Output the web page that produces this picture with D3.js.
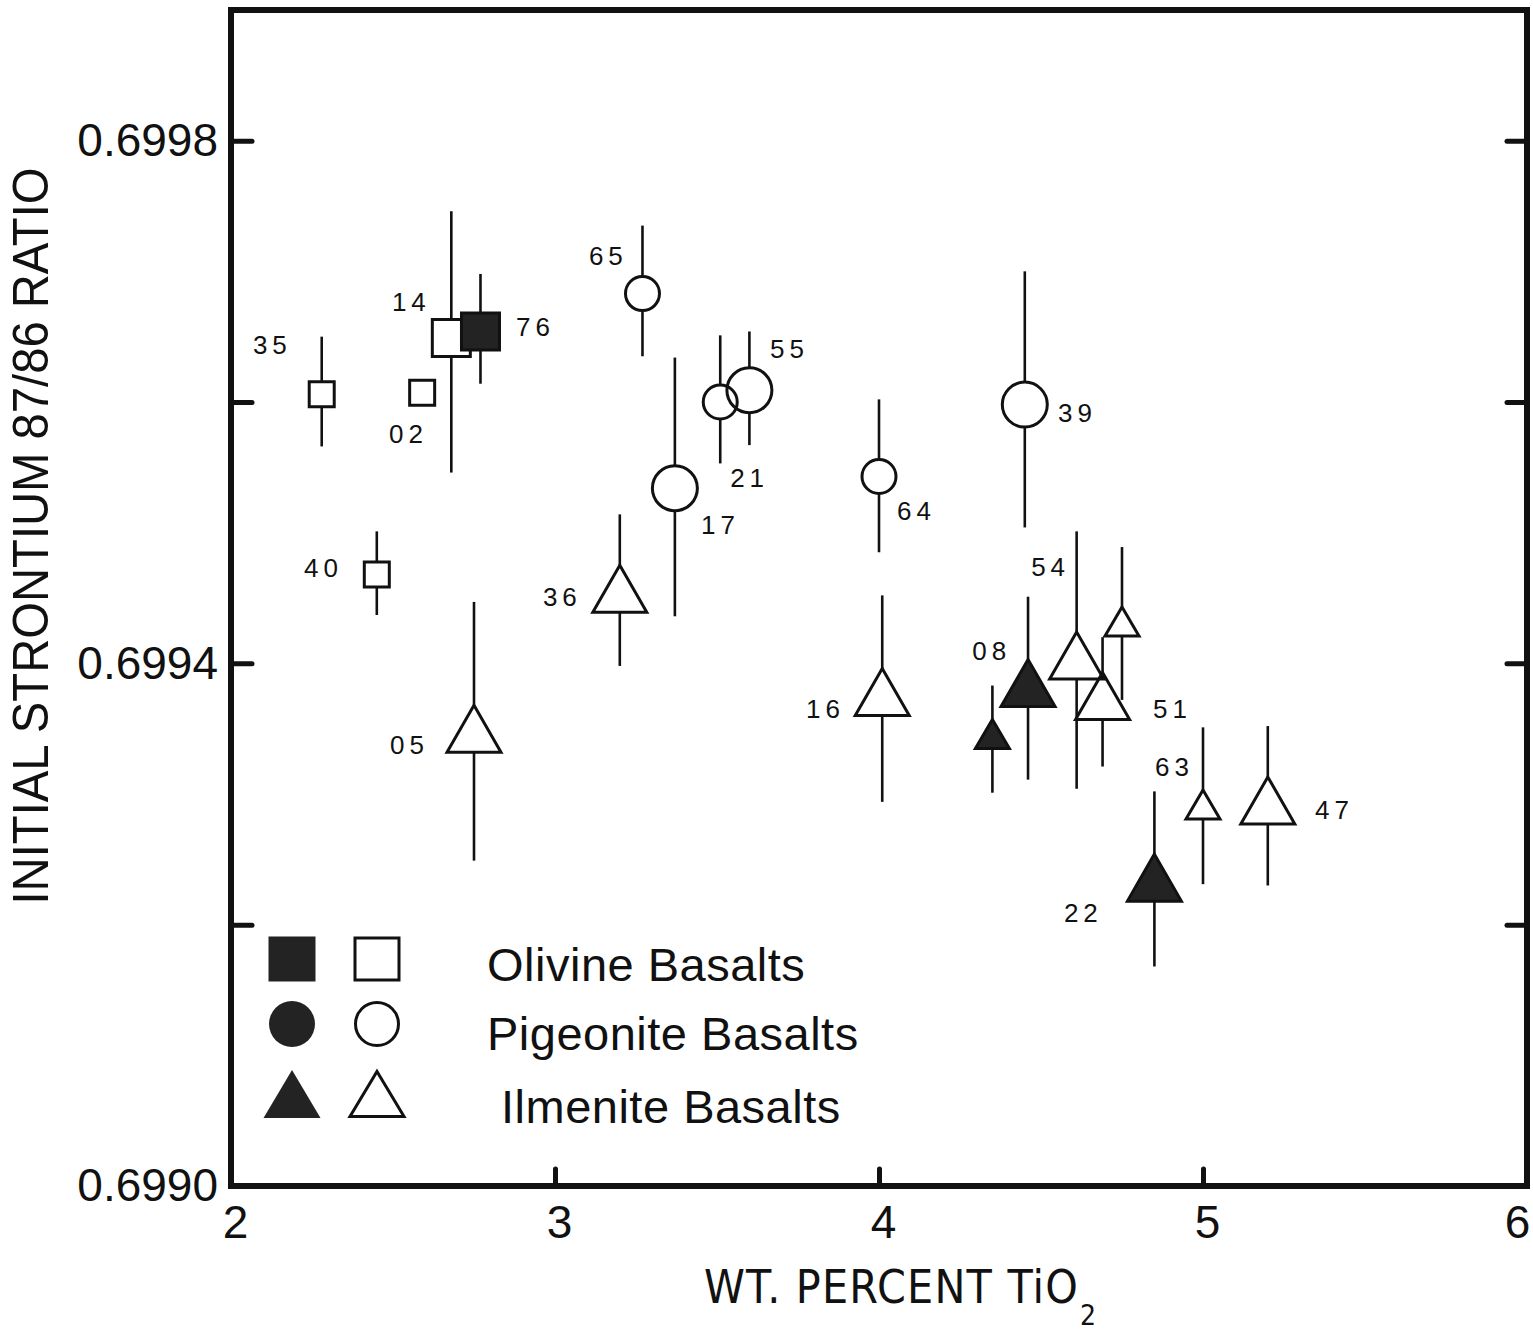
<!DOCTYPE html>
<html>
<head>
<meta charset="utf-8">
<script src="https://cdn.jsdelivr.net/npm/d3@7"></script>
<style>
  body { margin: 0; background: #fff; }
  svg { display: block; }
  text { font-family: "Liberation Sans", Arial, Helvetica, sans-serif; fill: #111; }
</style>
</head>
<body>
<div id="chart"></div>
<script>

//////// DATA ////////
// one entry per sample, plotting order (later ones drawn on top)
var sampleLabels = ["35", "02", "14", "76", "40",
                    "65", "21", "55", "17", "64", "39",
                    "36", "05", "16", "08", "", "54", "51", "", "63", "47", "22"];

var basaltType = ["olivine", "olivine", "olivine", "olivine", "olivine",
                  "pigeonite", "pigeonite", "pigeonite", "pigeonite", "pigeonite", "pigeonite",
                  "ilmenite", "ilmenite", "ilmenite", "ilmenite", "ilmenite", "ilmenite",
                  "ilmenite", "ilmenite", "ilmenite", "ilmenite", "ilmenite"];

var isFilled = [false, false, false, true, false,
                false, false, false, false, false, false,
                false, false, false, true, true, false, false, false, false, false, true];

// symbol size class
var sizeClass = ["small", "small", "large", "large", "small",
                 "small", "small", "large", "large", "small", "large",
                 "large", "large", "large", "large", "small", "large", "large", "small", "small", "large", "large"];

var tio2 = [2.28, 2.59, 2.68, 2.77, 2.45,
            3.27, 3.51, 3.60, 3.37, 4.00, 4.45,
            3.20, 2.75, 4.01, 4.46, 4.35, 4.61, 4.69, 4.75, 5.00, 5.20, 4.85];

var srRatio = [0.699606, 0.699607, 0.699649, 0.699654, 0.699468,
               0.699683, 0.699600, 0.699609, 0.699534, 0.699543, 0.699598,
               0.699457, 0.699350, 0.699378, 0.699385, 0.699346, 0.699406, 0.699375, 0.699432, 0.699292, 0.699295, 0.699236];

var srHigh = [0.699650, null, 0.699746, 0.699698, 0.699501,
              0.699735, 0.699651, 0.699654, 0.699634, 0.699602, 0.699700,
              0.699514, 0.699447, 0.699452, 0.699451, 0.699383, 0.699501, 0.699420, 0.699489, 0.699351, 0.699352, 0.699302];

var srLow = [0.699566, null, 0.699546, 0.699614, 0.699437,
             0.699635, 0.699553, 0.699567, 0.699436, 0.699485, 0.699504,
             0.699398, 0.699249, 0.699294, 0.699311, 0.699301, 0.699304, 0.699321, 0.699372, 0.699231, 0.699230, 0.699168];

// where each sample number is written (data units)
var labelTio2 = [2.120, 2.540, 2.549, 2.932, 2.278,
                 3.157, 3.593, 3.716, 3.503, 4.108, 4.605,
                 3.015, 2.543, 3.827, 4.340, null, 4.522, 4.898, null, 4.904, 5.398, 4.623];

var labelSr = [0.699644, 0.699576, 0.699677, 0.699658, 0.699473,
               0.699712, 0.699542, 0.699641, 0.699506, 0.699517, 0.699592,
               0.699451, 0.699338, 0.699365, 0.699410, null, 0.699474, 0.699365, null, 0.699321, 0.699288, 0.699209];

var xTicks = [2, 3, 4, 5, 6];
var yTicks = [0.6990, 0.6992, 0.6994, 0.6996, 0.6998];
var yTickLabels = ["0.6990", "", "0.6994", "", "0.6998"];

var legendTypes = ["olivine", "pigeonite", "ilmenite"];
var legendLabels = ["Olivine Basalts", "Pigeonite Basalts", "Ilmenite Basalts"];


//////// CANVAS ////////
var outerWidth = 1533,
    outerHeight = 1339;

var svg = d3.select("#chart").append("svg")
    .attr("width", outerWidth)
    .attr("height", outerHeight);

var xScale = d3.scaleLinear()
    .domain([2, 6])
    .range([231, 1527]);

var yScale = d3.scaleLinear()
    .domain([0.6990, 0.6999])
    .range([1186, 10]);

var inkColor = "#111",
    fillColor = "#232323";

// symbol dimensions per shape and size class
var symbolDims = {
    olivine:   {small: [25, 25], large: [38, 37], legend: [47, 45]},
    pigeonite: {small: [34, 34], large: [45, 45], legend: [46, 46]},
    ilmenite:  {small: [34, 29], large: [54, 47], legend: [57, 48]}
};

function symbolPath(type, w, h) {
    if (type == "olivine") {
        return "M" + (-w / 2) + "," + (-h / 2) + "h" + w + "v" + h + "h" + (-w) + "Z";
    }
    if (type == "pigeonite") {
        var p = d3.path();
        p.arc(0, 0, w / 2, 0, 2 * Math.PI);
        p.closePath();
        return p.toString();
    }
    return "M0," + (-h / 2) + "L" + (w / 2) + "," + (h / 2) + "L" + (-w / 2) + "," + (h / 2) + "Z";
}

var samples = sampleLabels.map(function(d, i) {
    return {
        label: d, type: basaltType[i], filled: isFilled[i], size: sizeClass[i],
        x: tio2[i], y: srRatio[i], hi: srHigh[i], lo: srLow[i],
        lx: labelTio2[i], ly: labelSr[i]
    };
});


//////// FRAME AND AXES ////////
var x0 = xScale(2), x1 = xScale(6), yTop = yScale.range()[1], yBot = yScale(0.6990);

// left
var yAxisL = svg.append("g")
    .attr("transform", "translate(" + x0 + ",0)")
    .call(d3.axisLeft(yScale)
        .tickValues(yTicks)
        .tickSizeInner(-21)
        .tickSizeOuter(0)
        .tickPadding(13)
        .tickFormat(function(d, i) { return yTickLabels[i]; }));

// right
var yAxisR = svg.append("g")
    .attr("transform", "translate(" + x1 + ",0)")
    .call(d3.axisRight(yScale)
        .tickValues(yTicks.slice(1))
        .tickSizeInner(-20)
        .tickSizeOuter(0)
        .tickFormat(""));

// bottom
var xAxis = svg.append("g")
    .attr("transform", "translate(0," + yBot + ")")
    .call(d3.axisBottom(xScale)
        .tickValues(xTicks)
        .tickSizeInner(-17)
        .tickSizeOuter(0)
        .tickPadding(19)
        .tickFormat(d3.format("d")));

svg.selectAll(".domain").remove();

svg.selectAll(".tick line")
    .attr("stroke", inkColor)
    .attr("stroke-width", 5)
    .attr("stroke-linecap", "round");

svg.selectAll(".tick text")
    .attr("fill", inkColor)
    .attr("font-size", 46)
    .attr("font-family", "'Liberation Sans', Arial, sans-serif");

// last label sits against the page edge in the scan
xAxis.selectAll(".tick text")
    .attr("dx", function(d) { return d == 6 ? -10 : 4; });

// box
svg.append("rect")
    .attr("x", x0)
    .attr("y", yTop)
    .attr("width", x1 - x0)
    .attr("height", yBot - yTop)
    .attr("fill", "none")
    .attr("stroke", inkColor)
    .attr("stroke-width", 6);

// axis titles
svg.append("text")
    .attr("transform", "translate(48,536) rotate(-90)")
    .attr("text-anchor", "middle")
    .attr("font-size", 50)
    .attr("textLength", 737)
    .attr("lengthAdjust", "spacingAndGlyphs")
    .text("INITIAL STRONTIUM 87/86 RATIO");

// condensed face, like the typeset original
var xTitle = svg.append("text")
    .attr("x", 704)
    .attr("y", 1303)
    .attr("font-size", 46)
    .style("font-family", "'Liberation Sans Narrow', 'Arial Narrow', 'DejaVu Sans Condensed', sans-serif")
    .attr("letter-spacing", 1.2);

xTitle.append("tspan")
    .text("WT. PERCENT TiO");

xTitle.append("tspan")
    .attr("font-size", 28)
    .attr("dx", 1)
    .attr("dy", 22)
    .text("2");


//////// ERROR BARS ////////
var plot = svg.append("g");

function halfHeight(d) {
    return symbolDims[d.type][d.size][1] / 2;
}

var bars = plot.append("g")
    .selectAll("g")
    .data(samples.filter(function(d) { return d.hi != null; }))
    .enter().append("g");

bars.append("line")
    .attr("x1", function(d) { return xScale(d.x); })
    .attr("x2", function(d) { return xScale(d.x); })
    .attr("y1", function(d) { return yScale(d.hi); })
    .attr("y2", function(d) { return yScale(d.y) - halfHeight(d); });

bars.append("line")
    .attr("x1", function(d) { return xScale(d.x); })
    .attr("x2", function(d) { return xScale(d.x); })
    .attr("y1", function(d) { return yScale(d.y) + halfHeight(d); })
    .attr("y2", function(d) { return yScale(d.lo); });

bars.selectAll("line")
    .attr("stroke", inkColor)
    .attr("stroke-width", 2.6);


//////// SYMBOLS ////////
plot.append("g")
    .selectAll("path")
    .data(samples)
    .enter().append("path")
        .attr("transform", function(d) { return "translate(" + xScale(d.x) + "," + yScale(d.y) + ")"; })
        .attr("d", function(d) {
            var dim = symbolDims[d.type][d.size];
            return symbolPath(d.type, dim[0], dim[1]);
        })
        .attr("fill", function(d) { return d.filled ? fillColor : "none"; })
        .attr("stroke", inkColor)
        .attr("stroke-width", 3)
        .attr("stroke-linejoin", "miter");

// sample numbers
var labelSize = 26,
    labelSpacing = 5;

plot.append("g")
    .selectAll("text")
    .data(samples.filter(function(d) { return d.label != ""; }))
    .enter().append("text")
        .attr("x", function(d) { return xScale(d.lx); })
        .attr("y", function(d) { return yScale(d.ly); })
        .attr("dx", labelSpacing / 2)
        .attr("dy", "0.358em")
        .attr("text-anchor", "middle")
        .attr("font-size", labelSize)
        .attr("letter-spacing", labelSpacing)
        .text(function(d) { return d.label; });


//////// LEGEND ////////
var legendRowY = [959, 1024, 1094],
    legendTextY = [981, 1050, 1123],
    legendTextX = [487, 487, 501],
    legendFilledX = 292,
    legendOpenX = 377;

var legend = svg.append("g")
    .selectAll("g")
    .data(legendTypes)
    .enter().append("g")
        .attr("class", "lgd");

legend.append("path")
    .attr("transform", function(d, i) { return "translate(" + legendFilledX + "," + legendRowY[i] + ")"; })
    .attr("d", function(d) { var dim = symbolDims[d].legend; return symbolPath(d, dim[0], dim[1]); })
    .attr("fill", fillColor)
    .attr("stroke", "none");

legend.append("path")
    .attr("transform", function(d, i) { return "translate(" + legendOpenX + "," + legendRowY[i] + ")"; })
    .attr("d", function(d) { var dim = symbolDims[d].legend; return symbolPath(d, dim[0] - 3, dim[1] - 3); })
    .attr("fill", "none")
    .attr("stroke", inkColor)
    .attr("stroke-width", 3);

legend.append("text")
    .attr("x", function(d, i) { return legendTextX[i]; })
    .attr("y", function(d, i) { return legendTextY[i]; })
    .attr("font-size", 47)
    .attr("letter-spacing", 0.5)
    .text(function(d, i) { return legendLabels[i]; });

</script>
</body>
</html>
